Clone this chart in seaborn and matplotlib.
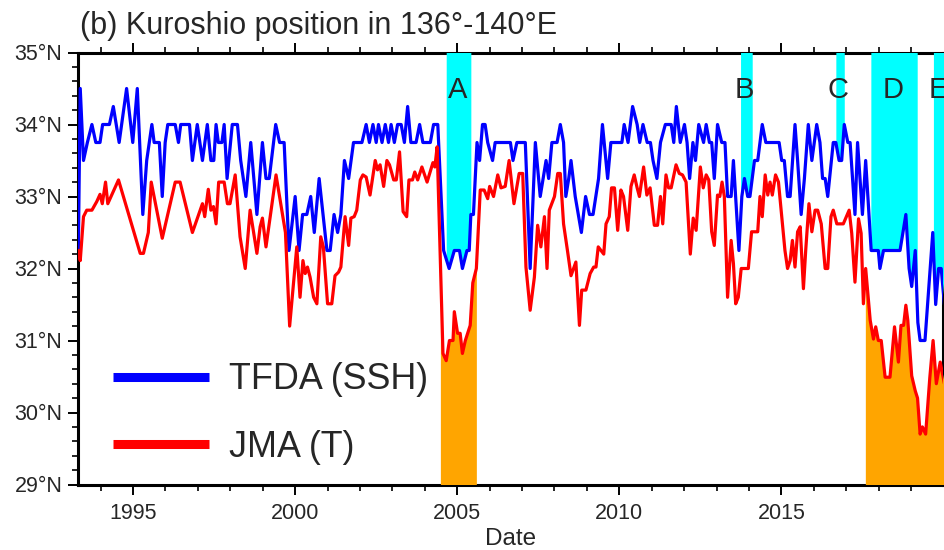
import numpy as np
import pandas as pd
import matplotlib
matplotlib.use("Agg")
import matplotlib.pyplot as plt
from matplotlib.ticker import MultipleLocator, FuncFormatter
import seaborn as sns

sns.set_theme(style="ticks")
plt.rcParams['font.family'] = ['Liberation Sans', 'DejaVu Sans']

# Kuroshio axis latitude from altimetry (TFDA, SSH based)
tfda_year = [
    1993.31, 1993.37, 1993.47, 1993.59, 1993.73, 1993.85, 1993.98, 1994.06, 1994.27, 1994.39,
    1994.57, 1994.80, 1994.99, 1995.13, 1995.30, 1995.42, 1995.58, 1995.65, 1995.81, 1995.90,
    1995.99, 1996.07, 1996.30, 1996.40, 1996.47, 1996.74, 1996.83, 1996.98, 1997.14, 1997.29,
    1997.40, 1997.49, 1997.56, 1997.63, 1997.74, 1997.81, 1997.90, 1998.06, 1998.22, 1998.32,
    1998.48, 1998.63, 1998.82, 1998.99, 1999.10, 1999.20, 1999.40, 1999.52, 1999.66, 1999.81,
    2000.00, 2000.12, 2000.23, 2000.36, 2000.48, 2000.59, 2000.74, 2000.98, 2001.08, 2001.20,
    2001.31, 2001.41, 2001.52, 2001.65, 2001.80, 2002.06, 2002.19, 2002.29, 2002.40, 2002.50,
    2002.57, 2002.68, 2002.78, 2002.88, 2002.96, 2003.06, 2003.16, 2003.27, 2003.37, 2003.47,
    2003.57, 2003.73, 2003.84, 2003.94, 2004.17, 2004.27, 2004.40, 2004.58, 2004.75, 2004.91,
    2005.07, 2005.16, 2005.30, 2005.37, 2005.42, 2005.50, 2005.61, 2005.69, 2005.78, 2005.86,
    2005.94, 2006.09, 2006.17, 2006.64, 2006.72, 2006.84, 2007.10, 2007.25, 2007.41, 2007.56,
    2007.74, 2007.82, 2007.92, 2008.08, 2008.18, 2008.28, 2008.35, 2008.44, 2008.51, 2008.64,
    2008.83, 2008.96, 2009.08, 2009.19, 2009.36, 2009.48, 2009.64, 2009.74, 2010.08, 2010.15,
    2010.27, 2010.41, 2010.55, 2010.63, 2010.73, 2010.86, 2010.96, 2011.04, 2011.16, 2011.27,
    2011.42, 2011.60, 2011.68, 2011.76, 2011.88, 2012.01, 2012.09, 2012.17, 2012.27, 2012.35,
    2012.45, 2012.60, 2012.68, 2012.78, 2012.85, 2012.93, 2013.03, 2013.16, 2013.26, 2013.34,
    2013.45, 2013.52, 2013.62, 2013.69, 2013.78, 2013.86, 2013.96, 2014.03, 2014.17, 2014.27,
    2014.41, 2014.52, 2014.93, 2015.01, 2015.09, 2015.19, 2015.27, 2015.42, 2015.50, 2015.61,
    2015.71, 2015.83, 2015.94, 2016.09, 2016.19, 2016.27, 2016.35, 2016.43, 2016.60, 2016.68,
    2016.78, 2016.86, 2016.94, 2017.05, 2017.12, 2017.27, 2017.35, 2017.50, 2017.60, 2017.77,
    2017.99, 2018.04, 2018.15, 2018.66, 2018.84, 2018.94, 2019.02, 2019.13, 2019.21, 2019.28,
    2019.43, 2019.67, 2019.76, 2019.85, 2019.93, 2020.03,
]
tfda_lat = [
    32.25, 34.50, 33.50, 33.75, 34.00, 33.75, 33.75, 34.00, 34.00, 34.25,
    33.75, 34.50, 33.75, 34.50, 32.75, 33.50, 34.00, 33.75, 33.75, 33.00,
    33.75, 34.00, 34.00, 33.75, 34.00, 34.00, 33.50, 34.00, 33.50, 34.00,
    33.50, 33.50, 34.00, 33.75, 33.75, 34.00, 33.25, 34.00, 34.00, 33.50,
    33.00, 33.75, 32.75, 33.75, 33.25, 33.25, 34.00, 33.75, 33.75, 32.25,
    33.00, 32.25, 32.75, 32.75, 33.00, 32.50, 33.25, 32.25, 32.25, 32.75,
    32.50, 32.75, 33.50, 33.25, 33.75, 33.75, 34.00, 33.75, 34.00, 33.75,
    34.00, 33.75, 34.00, 33.75, 34.00, 33.75, 34.00, 34.00, 33.75, 34.25,
    33.75, 33.75, 34.00, 33.75, 33.75, 34.00, 34.00, 32.25, 32.00, 32.25,
    32.25, 32.00, 32.25, 32.25, 32.75, 32.75, 33.75, 33.50, 34.00, 34.00,
    33.75, 33.50, 33.75, 33.75, 33.50, 33.75, 33.75, 32.00, 33.75, 33.00,
    33.50, 33.25, 33.75, 33.75, 34.00, 33.75, 33.00, 33.25, 33.50, 33.00,
    32.50, 33.00, 32.75, 32.75, 33.25, 34.00, 33.25, 33.75, 33.75, 34.00,
    33.75, 34.25, 34.00, 33.75, 34.00, 33.75, 33.75, 33.50, 33.25, 33.75,
    34.00, 34.00, 33.75, 34.25, 33.75, 34.00, 33.75, 33.25, 33.75, 33.50,
    34.00, 33.75, 34.00, 33.75, 33.75, 33.25, 34.00, 33.75, 33.75, 33.00,
    33.00, 33.50, 32.75, 32.25, 33.00, 33.25, 33.00, 33.00, 33.50, 33.50,
    34.00, 33.75, 33.75, 33.50, 33.50, 33.00, 33.00, 34.00, 33.50, 32.75,
    33.25, 34.00, 33.50, 34.00, 33.75, 33.25, 33.25, 33.00, 33.75, 33.75,
    33.50, 33.50, 34.00, 33.75, 33.75, 32.75, 33.75, 32.75, 33.50, 32.25,
    32.25, 32.00, 32.25, 32.25, 32.75, 32.00, 31.75, 32.25, 31.25, 31.00,
    31.00, 32.50, 31.50, 32.00, 32.00, 31.50,
]

# Kuroshio axis latitude from JMA temperature analysis
jma_year = [
    1993.31, 1993.37, 1993.47, 1993.57, 1993.73, 1993.88, 1993.98, 1994.05, 1994.15, 1994.22,
    1994.55, 1995.22, 1995.32, 1995.47, 1995.56, 1995.90, 1996.30, 1996.45, 1996.83, 1997.14,
    1997.21, 1997.32, 1997.40, 1997.48, 1997.56, 1997.64, 1997.81, 1997.91, 1997.99, 1998.15,
    1998.30, 1998.46, 1998.61, 1998.82, 1998.92, 1998.99, 1999.10, 1999.41, 1999.70, 1999.83,
    2000.05, 2000.15, 2000.24, 2000.31, 2000.38, 2000.46, 2000.57, 2000.67, 2000.79, 2000.87,
    2001.00, 2001.13, 2001.23, 2001.34, 2001.41, 2001.54, 2001.65, 2001.72, 2001.82, 2001.90,
    2002.01, 2002.09, 2002.19, 2002.31, 2002.47, 2002.54, 2002.62, 2002.73, 2002.83, 2002.91,
    2003.04, 2003.12, 2003.22, 2003.33, 2003.44, 2003.51, 2003.62, 2003.69, 2003.78, 2003.91,
    2004.07, 2004.25, 2004.31, 2004.38, 2004.56, 2004.66, 2004.76, 2004.87, 2004.91, 2005.01,
    2005.09, 2005.16, 2005.25, 2005.40, 2005.48, 2005.59, 2005.71, 2005.83, 2005.94, 2006.00,
    2006.12, 2006.25, 2006.35, 2006.48, 2006.60, 2006.75, 2006.91, 2007.02, 2007.12, 2007.25,
    2007.38, 2007.48, 2007.58, 2007.69, 2007.77, 2007.84, 2008.00, 2008.10, 2008.18, 2008.28,
    2008.40, 2008.51, 2008.66, 2008.77, 2008.84, 2008.97, 2009.10, 2009.21, 2009.28, 2009.35,
    2009.52, 2009.59, 2009.69, 2009.76, 2009.85, 2009.95, 2010.05, 2010.13, 2010.26, 2010.36,
    2010.46, 2010.55, 2010.62, 2010.75, 2010.85, 2010.95, 2011.08, 2011.18, 2011.27, 2011.34,
    2011.44, 2011.52, 2011.60, 2011.75, 2011.85, 2011.95, 2012.06, 2012.19, 2012.28, 2012.37,
    2012.50, 2012.59, 2012.68, 2012.76, 2012.85, 2012.93, 2013.03, 2013.10, 2013.17, 2013.24,
    2013.34, 2013.45, 2013.52, 2013.59, 2013.67, 2013.76, 2013.98, 2014.08, 2014.27, 2014.34,
    2014.41, 2014.50, 2014.58, 2014.65, 2014.72, 2014.82, 2014.91, 2015.01, 2015.11, 2015.19,
    2015.27, 2015.34, 2015.42, 2015.50, 2015.58, 2015.68, 2015.75, 2015.85, 2015.94, 2016.04,
    2016.12, 2016.23, 2016.35, 2016.43, 2016.53, 2016.60, 2016.71, 2016.91, 2017.09, 2017.17,
    2017.27, 2017.38, 2017.46, 2017.53, 2017.60, 2017.74, 2017.84, 2017.91, 2017.99, 2018.08,
    2018.20, 2018.35, 2018.49, 2018.61, 2018.69, 2018.77, 2018.84, 2018.90, 2019.02, 2019.13,
    2019.20, 2019.28, 2019.35, 2019.45, 2019.58, 2019.68, 2019.78, 2019.90, 2020.03,
]
jma_lat = [
    32.25, 32.11, 32.72, 32.81, 32.81, 32.93, 33.03, 32.90, 33.20, 32.90,
    33.23, 32.21, 32.21, 32.50, 33.20, 32.42, 33.20, 33.20, 32.50, 32.90,
    32.72, 33.10, 32.81, 32.86, 32.62, 33.20, 33.20, 32.90, 32.90, 33.30,
    32.44, 32.00, 32.81, 32.21, 32.58, 32.70, 32.30, 33.30, 32.50, 31.20,
    32.30, 31.60, 32.11, 31.93, 32.02, 31.88, 31.60, 31.51, 32.44, 32.30,
    31.51, 31.51, 31.90, 31.95, 32.02, 32.72, 32.32, 32.70, 32.72, 32.81,
    33.23, 33.30, 33.27, 33.02, 33.50, 33.37, 33.44, 33.14, 33.50, 33.44,
    33.23, 33.23, 33.62, 32.79, 32.72, 33.23, 33.23, 33.34, 33.23, 33.41,
    33.20, 33.47, 33.41, 33.69, 30.82, 30.72, 31.00, 31.00, 31.40, 31.10,
    31.10, 30.82, 31.00, 31.21, 31.80, 32.00, 33.09, 33.09, 32.97, 33.14,
    33.00, 33.30, 33.12, 33.14, 33.50, 32.90, 33.32, 33.32, 32.02, 31.42,
    31.88, 32.60, 32.30, 32.72, 32.00, 32.81, 33.00, 33.32, 33.32, 32.62,
    32.25, 31.90, 32.09, 31.21, 31.70, 31.70, 31.93, 32.02, 32.02, 32.30,
    32.20, 32.62, 32.72, 33.12, 33.12, 32.53, 33.09, 33.00, 32.53, 33.14,
    33.30, 33.12, 33.00, 33.41, 33.02, 33.12, 32.60, 32.60, 33.00, 32.62,
    33.30, 33.12, 33.12, 33.44, 33.32, 33.30, 33.20, 32.20, 32.70, 32.53,
    33.41, 33.12, 33.30, 33.23, 32.51, 32.32, 33.02, 33.00, 33.20, 33.00,
    31.60, 32.39, 32.07, 31.51, 31.60, 32.00, 32.00, 32.51, 32.51, 33.00,
    32.72, 33.30, 33.02, 33.20, 33.02, 33.30, 33.20, 32.72, 32.25, 32.00,
    32.11, 32.39, 32.02, 32.51, 32.58, 31.72, 32.25, 32.90, 32.51, 32.81,
    32.81, 32.62, 32.00, 32.00, 32.72, 32.81, 32.62, 32.62, 32.81, 32.49,
    31.81, 32.69, 32.49, 31.51, 32.00, 31.28, 31.02, 31.19, 31.00, 31.00,
    30.49, 30.49, 31.19, 30.70, 31.21, 31.21, 31.49, 31.28, 30.51, 30.30,
    30.20, 29.70, 29.80, 29.70, 30.49, 31.00, 30.40, 30.70, 30.40,
]

# Large-meander periods detected in each series
tfda_event_names = ["A", "B", "C", "D", "E"]
tfda_event_start = [2004.66, 2013.74, 2016.68, 2017.76, 2019.69]
tfda_event_end = [2005.42, 2014.10, 2016.94, 2019.19, 2020.05]
tfda_event_label_x = [2005.00, 2013.86, 2016.76, 2018.46, 2019.83]
jma_event_start = [2004.48, 2017.59]
jma_event_end = [2005.59, 2020.05]

series_names = ["TFDA (SSH)", "JMA (T)"]
series_colors = ["#0000ff", "#ff0000"]

df = pd.concat([
    pd.DataFrame({"Date": tfda_year, "lat": tfda_lat, "series": series_names[0]}),
    pd.DataFrame({"Date": jma_year, "lat": jma_lat, "series": series_names[1]}),
], ignore_index=True)

W, H = 944, 550
fig = plt.figure(figsize=(W / 100, H / 100), dpi=100)
ax_l, ax_r, ax_t, ax_b = 78.3, 943.3, 52.5, 484.5
ax = fig.add_axes([ax_l / W, 1 - ax_b / H, (ax_r - ax_l) / W, (ax_b - ax_t) / H])

x_min, x_max = 1993.31, 2019.995
y_min, y_max = 29.0, 35.0

# shading: TFDA events from the curve up to the top, JMA events from the bottom up to the curve
for s, e in zip(tfda_event_start, tfda_event_end):
    xs = np.linspace(s, e, 400)
    ax.fill_between(xs, np.interp(xs, tfda_year, tfda_lat), y_max,
                    color="#00ffff", lw=0, zorder=3)
for s, e in zip(jma_event_start, jma_event_end):
    xs = np.linspace(s, e, 400)
    ax.fill_between(xs, y_min, np.interp(xs, jma_year, jma_lat),
                    color="#ffa500", lw=0, zorder=3)

sns.lineplot(data=df, x="Date", y="lat", hue="series", hue_order=series_names,
             palette=dict(zip(series_names, series_colors)),
             estimator=None, sort=False, lw=2.3, ax=ax, zorder=5)

for name, xl in zip(tfda_event_names, tfda_event_label_x):
    ax.text(xl, 34.48, name, ha="center", va="center", fontsize=21, zorder=6)

ax.set_xlim(x_min, x_max)
ax.set_ylim(y_min, y_max)
ax.xaxis.set_major_locator(MultipleLocator(5))
ax.xaxis.set_minor_locator(MultipleLocator(1))
ax.yaxis.set_major_locator(MultipleLocator(1))
ax.yaxis.set_minor_locator(MultipleLocator(0.2))
ax.xaxis.set_major_formatter(FuncFormatter(lambda v, p: f"{int(round(v))}"))
ax.yaxis.set_major_formatter(FuncFormatter(lambda v, p: f"{int(round(v))}°N"))

for sp in ax.spines.values():
    sp.set_linewidth(2.2)
    sp.set_color("black")
    sp.set_visible(True)

ax.tick_params(which="both", direction="out", top=True, right=True,
               labeltop=False, labelright=False, color="black")
ax.tick_params(which="major", length=7.5, width=1.4, labelsize=15.5, pad=4)
ax.tick_params(which="minor", length=4.5, width=1.2)
ax.tick_params(axis="x", which="major", pad=6)

ax.set_xlabel("Date", fontsize=17.5, labelpad=3)
ax.set_ylabel("")

handles, labels = ax.get_legend_handles_labels()
leg = ax.legend(handles, labels, loc="center left",
                bbox_to_anchor=((113 - ax_l) / (ax_r - ax_l), (ax_b - 413.5) / (ax_b - ax_t)),
                frameon=False, fontsize=25.8, handlelength=2.68, handletextpad=0.55,
                labelspacing=0.9, borderpad=0, borderaxespad=0)
for ln in leg.get_lines():
    ln.set_linewidth(6.5)
    ln.set_solid_capstyle("butt")

fig.text(80 / W, 1 - 34 / H, "(b) Kuroshio position in 136°-140°E",
         fontsize=22, ha="left", va="baseline")

fig.savefig("out.png", dpi=100)
